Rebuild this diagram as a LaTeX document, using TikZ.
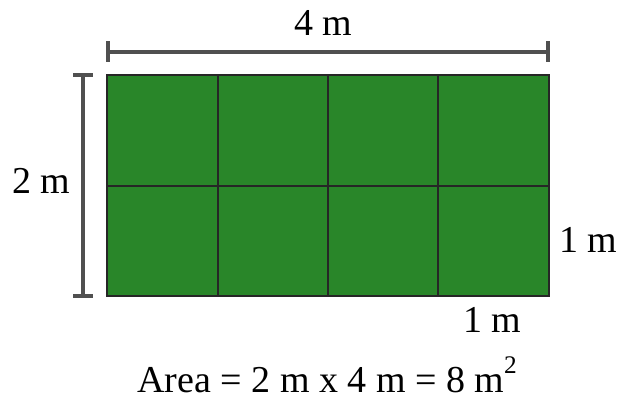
\documentclass[tikz,border=0pt]{standalone}
\usepackage{fontspec}
\setmainfont{Liberation Serif}
\definecolor{grass}{RGB}{41,134,41}
\definecolor{dimgray}{RGB}{80,80,80}
\begin{document}
\begin{tikzpicture}[x=0.75pt,y=-0.75pt,
  lbl/.style={inner sep=0pt,anchor=base,font=\fontsize{28.5}{32}\selectfont},
  dimline/.style={draw=dimgray,line width=2.3pt},
  gridline/.style={draw=black!85,line width=1.1pt}]
\useasboundingbox (0,0) rectangle (623,401);
\coordinate (tl) at (107,75);
\coordinate (br) at (549,296);
\fill[grass] (tl) rectangle (br);
\foreach \x in {218,328,438} \draw[gridline] (\x,75) -- (\x,296);
\draw[gridline] (107,186) -- (549,186);
\draw[gridline] (tl) rectangle (br);
% top dimension
\coordinate (ta) at (108,52);
\coordinate (tb) at (548,52);
\draw[dimline] (ta) -- (tb);
\draw[dimline] (108,41) -- (108,62);
\draw[dimline] (548,41) -- (548,62);
% left dimension
\coordinate (la) at (83,75);
\coordinate (lb) at (83,296);
\draw[dimline] (la) -- (lb);
\draw[dimline] (73,75) -- (93,75);
\draw[dimline] (73,296) -- (93,296);
\node[lbl] (top) at (323.5,35) {4 m};
\node[lbl] (left) at (41.5,193) {2 m};
\node[lbl] (right) at (588.5,252) {1 m};
\node[lbl] (bottom) at (492.5,332) {1 m};
\node[lbl] (area) at (327,392) {Area = 2 m x 4 m = 8 m\raisebox{0.5em}{\fontsize{19}{20}\selectfont 2}};
\end{tikzpicture}
\end{document}
